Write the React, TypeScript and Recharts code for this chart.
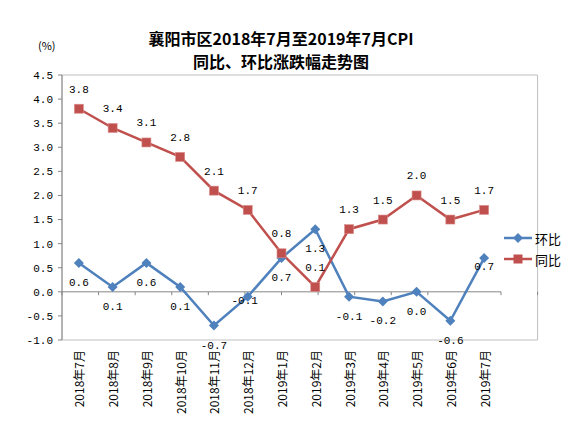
import React from 'react';
import { LineChart, Line, XAxis, YAxis, ReferenceLine, ReferenceArea, LabelList } from 'recharts';

const months = ['2018年7月', '2018年8月', '2018年9月', '2018年10月', '2018年11月', '2018年12月', '2019年1月', '2019年2月', '2019年3月', '2019年4月', '2019年5月', '2019年6月', '2019年7月'];
const huanbi = [0.6, 0.1, 0.6, 0.1, -0.7, -0.1, 0.7, 1.3, -0.1, -0.2, 0.0, -0.6, 0.7];
const tongbi = [3.8, 3.4, 3.1, 2.8, 2.1, 1.7, 0.8, 0.1, 1.3, 1.5, 2.0, 1.5, 1.7];
const yTicks = [-1.0, -0.5, 0.0, 0.5, 1.0, 1.5, 2.0, 2.5, 3.0, 3.5, 4.0, 4.5];
const boundaries = [0, 1, 2, 3, 4, 5, 6, 7, 8, 9, 10, 11, 12, 13];

const data = months.map((m, i) => ({ m, hb: huanbi[i], tb: tongbi[i] }));

const BLUE = '#4F81BD';
const RED = '#C0504D';
const MONO = '"Liberation Mono", "DejaVu Sans Mono", monospace';
const CJK = '"Noto Sans CJK SC", "Noto Sans", sans-serif';

// label placement overrides for blue series (index -> [dx, dy])
const blueLabelShift: Record<number, [number, number]> = { 5: [-3, 4], 12: [0, 9] };

const Square = (props: any) => {
  const { cx, cy } = props;
  if (cx == null || cy == null) return null;
  return <rect x={cx - 4.5} y={cy - 4.5} width={9} height={9} fill={RED} stroke="#d98c8a" strokeWidth={0.6} />;
};

const Diamond = (props: any) => {
  const { cx, cy } = props;
  if (cx == null || cy == null) return null;
  const r = 5;
  return <polygon points={`${cx},${cy - r} ${cx + r},${cy} ${cx},${cy + r} ${cx - r},${cy}`} fill={BLUE} />;
};

const fmt = (v: number) => v.toFixed(1);

const RedLabel = (props: any) => {
  const { x, y, value } = props;
  return (
    <text x={x} y={y - 19} textAnchor="middle" dominantBaseline="central" fontFamily={MONO} fontSize={11} fill="#000">
      {fmt(value)}
    </text>
  );
};

const BlueLabel = (props: any) => {
  const { x, y, value, index } = props;
  const s = blueLabelShift[index] || [0, 20];
  return (
    <text x={x + s[0]} y={y + s[1]} textAnchor="middle" dominantBaseline="central" fontFamily={MONO} fontSize={11} fill="#000">
      {fmt(value)}
    </text>
  );
};

const XTick = (props: any) => {
  const { x, y, payload } = props;
  const ty = y + 2;
  return (
    <text x={x} y={ty} transform={`rotate(-90, ${x}, ${ty})`} textAnchor="end" dominantBaseline="central" fontFamily={CJK} fontSize={12} fill="#000">
      {payload.value}
    </text>
  );
};

export default function App() {
  return (
    <div style={{ position: 'absolute', left: 0, top: 0, width: 586, height: 425, background: '#fff' }}>
      <div style={{ position: 'absolute', left: 0, top: 27, width: 562, textAlign: 'center', fontFamily: CJK, fontWeight: 700, fontSize: 16, lineHeight: '23px', color: '#000' }}>
        襄阳市区2018年7月至2019年7月CPI
        <br />
        同比、环比涨跌幅走势图
      </div>
      <div style={{ position: 'absolute', left: 38, top: 37, fontFamily: CJK, fontSize: 11, color: '#000' }}>(%)</div>
      <LineChart width={586} height={425} data={data} margin={{ top: 75, right: 85, bottom: 0, left: 0 }}>
        <XAxis dataKey="m" type="category" scale="band" height={85} axisLine={false} tickLine={false} tick={<XTick />} interval={0} />
        <XAxis xAxisId="num" type="number" domain={[0, 13]} hide />
        <YAxis
          width={62}
          domain={[-1, 4.5]}
          ticks={yTicks}
          tickFormatter={fmt}
          axisLine={{ stroke: '#868686', strokeWidth: 1 }}
          tickLine={{ stroke: '#868686' }}
          tickSize={4}
          tickMargin={5}
          tick={{ fontFamily: MONO, fontSize: 11, fill: '#000' }}
          interval={0}
        />
        <ReferenceArea xAxisId="num" x1={0} x2={13} y1={-1} y2={4.5} fill="none" stroke="#bfbfbf" strokeWidth={1} ifOverflow="visible" />
        <ReferenceLine y={0} stroke="#868686" strokeWidth={1} />
        {boundaries.map((b) => (
          <ReferenceLine
            key={b}
            xAxisId="num"
            segment={[{ x: b, y: 0 }, { x: b, y: -0.07 }]}
            stroke="#868686"
            strokeWidth={1}
            ifOverflow="visible"
          />
        ))}
        <Line dataKey="hb" stroke={BLUE} strokeWidth={2.5} dot={<Diamond />} isAnimationActive={false}>
          <LabelList dataKey="hb" content={<BlueLabel />} />
        </Line>
        <Line dataKey="tb" stroke={RED} strokeWidth={2.5} dot={<Square />} isAnimationActive={false}>
          <LabelList dataKey="tb" content={<RedLabel />} />
        </Line>
      </LineChart>
      <svg style={{ position: 'absolute', left: 500, top: 225 }} width={86} height={50}>
        <line x1={4} y1={13} x2={32} y2={13} stroke={BLUE} strokeWidth={2.5} />
        <polygon points="18,8 23,13 18,18 13,13" fill={BLUE} />
        <text x={35} y={13} dominantBaseline="central" fontFamily={CJK} fontSize={13} fill="#000">环比</text>
        <line x1={4} y1={34} x2={32} y2={34} stroke={RED} strokeWidth={2.5} />
        <rect x={13.5} y={29.5} width={9} height={9} fill={RED} />
        <text x={35} y={34} dominantBaseline="central" fontFamily={CJK} fontSize={13} fill="#000">同比</text>
      </svg>
    </div>
  );
}
